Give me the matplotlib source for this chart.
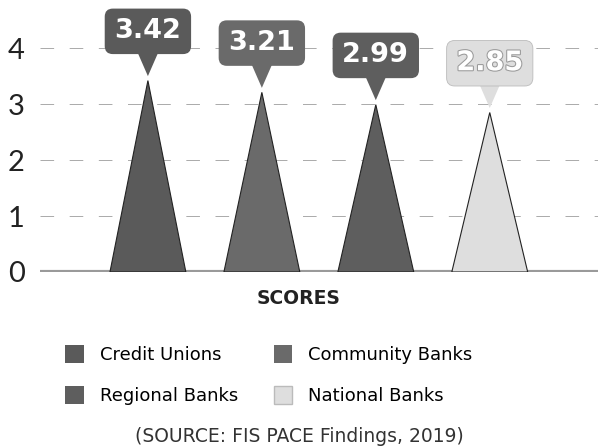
import matplotlib.pyplot as plt
import matplotlib.patheffects as pe
from matplotlib.patches import Polygon, Patch

plt.rcParams['font.family'] = ['DejaVu Sans']

# data
groups = ['Credit Unions', 'Community Banks', 'Regional Banks', 'National Banks']
scores = [3.42, 3.21, 2.99, 2.85]
colors = ['#5a5a5a', '#6a6a6a', '#5e5e5e', '#dedede']
yticks = [0, 1, 2, 3, 4]

fig = plt.figure(figsize=(5.98, 4.47), dpi=100)
ax = fig.add_axes([40 / 598, 1 - 272 / 447, 1 - 40 / 598, 272 / 447])

half = 0.333
for i, (v, c) in enumerate(zip(scores, colors)):
    tri = Polygon([(i - half, 0), (i + half, 0), (i, v)], closed=True,
                  facecolor=c, edgecolor='#222222', lw=0.8, zorder=3)
    ax.add_patch(tri)
    # label box with small pointer
    ptr = Polygon([(i - 0.09, v + 0.5), (i + 0.09, v + 0.5), (i, v + 0.08)],
                  closed=True, facecolor=c, edgecolor='none', zorder=4)
    ax.add_patch(ptr)
    light = i == 3
    t = ax.text(i, v + 0.88, f'{v:.2f}', ha='center', va='center',
                fontsize=19.5, fontweight='bold', color='white', zorder=5,
                bbox=dict(boxstyle='round,pad=0.36,rounding_size=0.3',
                          facecolor=c, edgecolor='#bbbbbb' if light else 'none',
                          lw=0.6))
    if light:
        t.set_path_effects([pe.withStroke(linewidth=1.5, foreground='#999999')])

ax.set_xlim(-0.947, 3.95)
ax.set_ylim(0, 4.86)
for y in yticks[1:]:
    ax.axhline(y, color='#aaaaaa', lw=0.7, linestyle=(0, (14, 16)), zorder=1)
ax.axhline(0, color='#9a9a9a', lw=3, zorder=2)

ax.set_yticks(yticks)
ax.set_yticklabels([str(t) for t in yticks], fontsize=21, fontweight='normal',
                   color='#222222', family='Lato')
ax.set_xticks([])
ax.tick_params(axis='y', length=0, pad=11)
for s in ax.spines.values():
    s.set_visible(False)
ax.patch.set_alpha(0)

fig.text(0.5, 1 - 298 / 447, 'SCORES', ha='center', va='center',
         fontsize=13.5, fontweight='bold', color='#222222')

order = [0, 2, 1, 3]
handles = [Patch(facecolor=colors[k], edgecolor='#bbbbbb' if k == 3 else 'none',
                 label=groups[k]) for k in order]
fig.legend(handles=handles, ncol=2, loc='center', bbox_to_anchor=(0.45, 1 - 375 / 447),
           frameon=False, fontsize=13, handlelength=1.0, handleheight=1.2,
           labelspacing=1.2, columnspacing=2.0, handletextpad=0.9)

fig.text(0.5, 1 - 437 / 447, '(SOURCE: FIS PACE Findings, 2019)', ha='center',
         va='center', fontsize=13.5, color='#333333')

fig.savefig('out.png', dpi=100)
